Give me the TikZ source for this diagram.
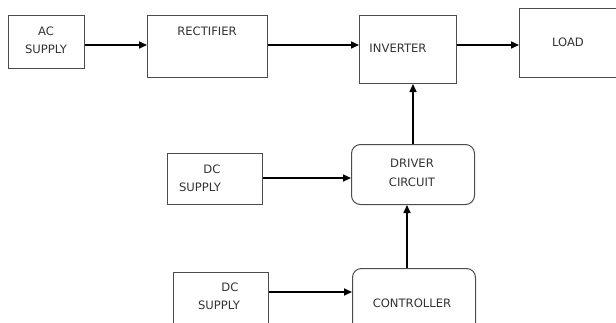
\documentclass[tikz,border=0pt]{standalone}
\usepackage{fontspec}
\setmainfont{DejaVu Sans}
\usetikzlibrary{arrows.meta}
\begin{document}
\begin{tikzpicture}[x=1pt,y=-1pt,
 box/.style={draw=black!70, line width=1pt, inner sep=0pt, anchor=north west},
 rbox/.style={box, rounded corners=9pt},
 lbl/.style={font=\fontsize{11.6}{13}\selectfont, text=black!80, inner sep=0pt},
 arr/.style={line width=1.6pt, -{Triangle[length=8pt,width=7pt]}}]
\useasboundingbox (0,0) rectangle (616,322);
\clip (0,0) rectangle (616,322);
% boxes
\node[box, minimum width=76pt, minimum height=53pt] (ac) at (8,15) {};
\node[box, minimum width=120pt, minimum height=62pt] (rect) at (147,15) {};
\node[box, minimum width=97pt, minimum height=68pt] (inv) at (359,15) {};
\node[box, minimum width=110pt, minimum height=69pt] (load) at (519,8) {};
\node[box, minimum width=95pt, minimum height=51pt] (dca) at (167,153) {};
\node[rbox, minimum width=123pt, minimum height=60pt] (drv) at (351,144) {};
\node[box, minimum width=95pt, minimum height=70pt] (dcb) at (173,272) {};
\node[rbox, minimum width=123pt, minimum height=70pt] (ctl) at (352,268) {};
% labels
\node[lbl] (t1) at (46,31) {AC};
\node[lbl] (t2) at (46,49) {SUPPLY};
\node[lbl] (t3) at (207,31) {RECTIFIER};
\node[lbl] (t4) at (398,48) {INVERTER};
\node[lbl] (t5) at (568,42) {LOAD};
\node[lbl] (t6) at (212,169) {DC};
\node[lbl] (t7) at (200,187) {SUPPLY};
\node[lbl] (t8) at (412,163) {DRIVER};
\node[lbl] (t9) at (412,182) {CIRCUIT};
\node[lbl] (t10) at (230,287) {DC};
\node[lbl] (t11) at (219,305) {SUPPLY};
\node[lbl] (t12) at (412,303) {CONTROLLER};
% connector levels
\coordinate (ya) at (0,45);
\coordinate (yb) at (0,178);
\coordinate (yc) at (0,292);
\coordinate (xa) at (413,0);
\coordinate (xb) at (407,0);
% connectors
\draw[arr] (ac.east |- ya) -- (rect.west |- ya);
\draw[arr] (rect.east |- ya) -- (inv.west |- ya);
\draw[arr] (inv.east |- ya) -- (load.west |- ya);
\draw[arr] (drv.north -| xa) -- (inv.south -| xa);
\draw[arr] (dca.east |- yb) -- (drv.west |- yb);
\draw[arr] (ctl.north -| xb) -- (drv.south -| xb);
\draw[arr] (dcb.east |- yc) -- (ctl.west |- yc);
\end{tikzpicture}
\end{document}
